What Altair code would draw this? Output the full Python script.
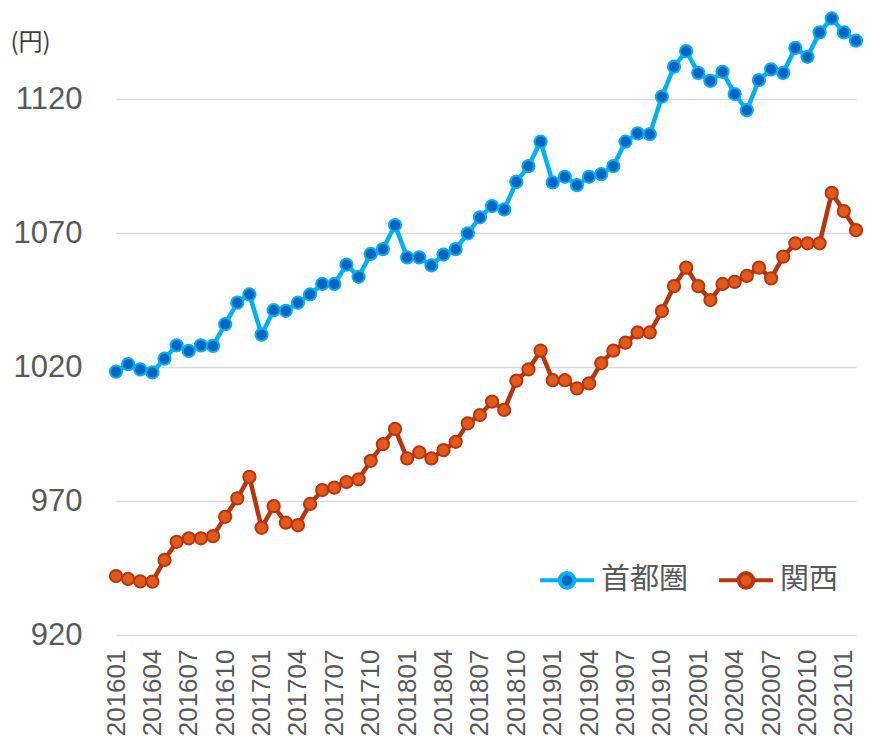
import altair as alt
import pandas as pd

months = [f"{y}{m:02d}" for y in range(2016, 2022) for m in range(1, 13)][:62]
tick_months = months[::3]

shutoken = [1018.3, 1021.1, 1019.1, 1018.0, 1023.1, 1028.1, 1026.0, 1028.1, 1027.9, 1036.0, 1044.0, 1047.1,
            1032.1, 1041.2, 1041.0, 1044.0, 1047.1, 1051.0, 1051.0, 1058.2, 1053.7, 1062.2, 1064.0, 1073.0,
            1060.9, 1060.9, 1057.9, 1062.0, 1064.0, 1069.9, 1075.9, 1080.1, 1078.8, 1089.1, 1095.0, 1104.1,
            1088.9, 1091.0, 1087.9, 1091.0, 1092.0, 1095.0, 1104.1, 1107.2, 1106.9, 1120.9, 1132.1, 1137.9,
            1129.8, 1126.8, 1130.2, 1121.9, 1115.9, 1127.1, 1131.1, 1129.8, 1139.1, 1135.8, 1144.9, 1150.1,
            1144.9, 1141.8]
kansai = [942.0, 940.9, 940.0, 939.9, 948.0, 954.8, 956.1, 956.1, 956.9, 964.1, 971.0, 979.0,
          960.0, 968.1, 961.9, 961.0, 968.9, 974.1, 975.0, 977.1, 978.1, 985.0, 991.2, 996.9,
          985.9, 988.2, 985.9, 989.0, 992.1, 999.0, 1002.1, 1007.1, 1004.0, 1014.9, 1019.1, 1026.1,
          1015.1, 1015.1, 1012.0, 1013.9, 1021.5, 1026.1, 1029.1, 1032.9, 1032.9, 1040.9, 1050.2, 1057.1,
          1050.2, 1045.0, 1051.0, 1051.8, 1054.0, 1057.1, 1053.1, 1061.2, 1066.2, 1066.2, 1066.2, 1085.0,
          1078.2, 1071.1]

series_names = ["首都圏", "関西"]
y_ticks = [920, 970, 1020, 1070, 1120]

df = pd.DataFrame({
    "month": months * 2,
    "value": shutoken + kansai,
    "series": [series_names[0]] * len(months) + [series_names[1]] * len(months),
})

line_colors = ["#00B0F0", "#B5360F"]
fill_colors = ["#0563C1", "#E2591B"]

x_enc = alt.X("month:O", sort=months,
              scale=alt.Scale(type="point", padding=0, range=[6, 746]),
              axis=alt.Axis(values=tick_months, labelAngle=270, title=None, domain=False, ticks=False,
                            labelPadding=14, labelFontSize=26, labelFont="Liberation Sans",
                            labelColor="#595959", grid=False, labelBaseline="middle"))
y_enc = alt.Y("value:Q",
              scale=alt.Scale(domain=[920, 1154], nice=False, zero=False),
              axis=alt.Axis(values=y_ticks, format="d", title="(円)", titleAngle=0, titleX=-100, titleY=34,
                            titleAlign="left", titleBaseline="middle", titleFontSize=24,
                            titleFont="Noto Sans CJK JP", titleFontWeight="normal", titleColor="#404040",
                            domain=False, ticks=False, labelPadding=28, labelFontSize=31,
                            labelFont="Liberation Sans", labelColor="#595959",
                            gridColor="#D9D9D9", gridWidth=1.5))

color_scale = alt.Scale(domain=series_names, range=line_colors)
fill_scale = alt.Scale(domain=series_names, range=fill_colors)

legend_path = "M-1,0H-0.27M0.27,0H1M0.27,0A0.27,0.27,0,1,1,-0.27,0A0.27,0.27,0,1,1,0.27,0Z"
leg = alt.Legend(title=None, orient="none", legendX=428, legendY=543, direction="horizontal",
                 labelFont="Noto Sans CJK JP", labelFontSize=29, labelColor="#595959",
                 symbolType=legend_path, symbolSize=2900, symbolStrokeWidth=4,
                 labelOffset=5, columnPadding=22, symbolOpacity=1)

lines = alt.Chart(df).mark_line(strokeWidth=4.5).encode(
    x=x_enc, y=y_enc,
    color=alt.Color("series:N", scale=color_scale, legend=leg),
)

points = alt.Chart(df).mark_point(shape="circle", size=150, strokeWidth=2, filled=False,
                                  fillOpacity=1, opacity=1).encode(
    x=x_enc, y=y_enc,
    color=alt.Color("series:N", scale=color_scale, legend=leg),
    fill=alt.Fill("series:N", scale=fill_scale, legend=leg),
)

chart = alt.layer(lines, points).properties(
    width=753, height=627,
    autosize=alt.AutoSizeParams(type="none"),
    padding={"left": 102, "top": 0, "right": 0, "bottom": 101},
).configure_view(stroke=None)

chart.save("out.html", embed_options={"renderer": "svg", "actions": False})
